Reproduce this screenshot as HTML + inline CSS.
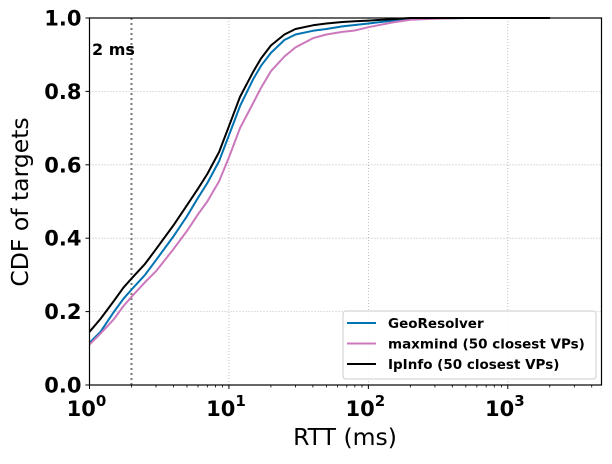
<!DOCTYPE html>
<html><head><meta charset="utf-8"><style>
body{margin:0;background:#fff}
svg text{font-family:"DejaVu Sans","Liberation Sans",sans-serif}
</style></head><body>
<svg id="chart" width="612" height="459" xmlns="http://www.w3.org/2000/svg">
<g id="grid"></g>
<g id="series"></g>
<g id="axes"></g>
</svg>
<script>
const seriesNames = ["GeoResolver","maxmind (50 closest VPs)","IpInfo (50 closest VPs)"];
const seriesColors = ["#0173b2","#cc78bc","#000000"];
const rttX = [1,1.2,1.5,1.75,2,2.5,3,4,5,6,7,8.5,10,12,15,17,20,25,30,40,50,65,80,100,150,200,300,500,2000];
const geoY = [0.115,0.145,0.20,0.235,0.26,0.30,0.34,0.405,0.46,0.51,0.55,0.61,0.68,0.76,0.835,0.87,0.905,0.94,0.955,0.965,0.97,0.977,0.981,0.985,0.993,0.997,0.999,1,1];
const maxY = [0.11,0.14,0.18,0.215,0.24,0.28,0.31,0.37,0.42,0.465,0.50,0.555,0.62,0.70,0.77,0.81,0.855,0.895,0.92,0.945,0.955,0.962,0.966,0.975,0.988,0.995,0.998,1,1];
const ipY  = [0.145,0.18,0.23,0.265,0.29,0.33,0.37,0.435,0.49,0.535,0.575,0.635,0.705,0.785,0.855,0.89,0.925,0.955,0.97,0.98,0.985,0.989,0.991,0.993,0.997,1,1,1,1];
const yTicks = [0,0.2,0.4,0.6,0.8,1.0];
const xTickExp = [0,1,2,3];

const L=89.5,R=601.5,T=18,B=385,xMax=Math.log10(4700);
const sx=v=>L+Math.log10(v)/xMax*(R-L);
const sy=v=>B-v*(B-T);
const NS="http://www.w3.org/2000/svg";
function mk(tag,attrs,parent){const e=document.createElementNS(NS,tag);for(const k in attrs)e.setAttribute(k,attrs[k]);parent.appendChild(e);return e;}
const grid=document.getElementById('grid'),ser=document.getElementById('series'),axes=document.getElementById('axes');

yTicks.forEach(t=>{
  const g=mk('line',{x1:L,x2:R,y1:sy(t),y2:sy(t),stroke:'#b0b0b0','stroke-width':0.8,'stroke-dasharray':'1,2'},grid);
  
  
  const tk=mk('line',{x1:L-4,x2:L,y1:sy(t),y2:sy(t),stroke:'#000','stroke-width':1},axes);
  
  
  const tx=mk('text',{x:L-8,y:sy(t)+7.5,'text-anchor':'end','font-size':21,'font-weight':'bold'},axes);
  tx.textContent=t.toFixed(1);
  
  
});
xTickExp.forEach(e=>{
  const x=sx(Math.pow(10,e));
  if(e>0){const g=mk('line',{x1:x,x2:x,y1:T,y2:B,stroke:'#b0b0b0','stroke-width':0.8,'stroke-dasharray':'1,2'},grid);
  
  }
  const tk=mk('line',{x1:x,x2:x,y1:B,y2:B+4,stroke:'#000','stroke-width':1},axes);
  
  
  const tx=mk('text',{x:x-3,y:B+31,'text-anchor':'middle','font-size':21,'font-weight':'bold'},axes);
  tx.innerHTML='10<tspan dy="-10" font-size="15">'+e+'</tspan>';
  
  
  for(let m=2;m<10;m++){const v=m*Math.pow(10,e);if(sx(v)>R)break;
    const mt=mk('line',{x1:sx(v),x2:sx(v),y1:B,y2:B+2.5,stroke:'#000','stroke-width':0.8},axes);
    
    }
});
const vl=mk('line',{x1:sx(2),x2:sx(2),y1:T,y2:B,stroke:'#777','stroke-width':2,'stroke-dasharray':'2,3'},ser);


const vt=mk('text',{x:92,y:55,'font-size':16,'font-weight':'bold'},ser);
vt.textContent='2 ms';



[geoY,maxY,ipY].forEach((ys,i)=>{
  const d=rttX.map((x,j)=>(j?'L':'M')+sx(x).toFixed(1)+','+sy(ys[j]).toFixed(1)).join(' ');
  const p=mk('path',{d:d,fill:'none',stroke:seriesColors[i],'stroke-width':2,'stroke-linejoin':'round'},ser);
  
  
});
const fr=mk('rect',{x:L,y:T,width:R-L,height:B-T,fill:'none',stroke:'#000','stroke-width':1.2},axes);



const lg=mk('g',{},axes);


mk('rect',{x:343,y:311,width:253,height:68,rx:3,fill:'#fff','fill-opacity':0.85,stroke:'#ccc'},lg);
seriesNames.forEach((n,i)=>{
  const y=323+i*20.5;
  const ln=mk('line',{x1:347,x2:376,y1:y,y2:y,stroke:seriesColors[i],'stroke-width':2},lg);
  
  
  const t=mk('text',{x:388,y:y+5,'font-size':13.5,'font-weight':'bold'},lg);
  t.textContent=n;
  
  
});
const xt=mk('text',{x:345,y:445,'text-anchor':'middle','font-size':23.5},axes);
xt.textContent='RTT (ms)';


const yt=mk('text',{x:0,y:0,'text-anchor':'middle','font-size':23.5,transform:'translate(28,202) rotate(-90)'},axes);
yt.textContent='CDF of targets';


</script>
</body></html>
